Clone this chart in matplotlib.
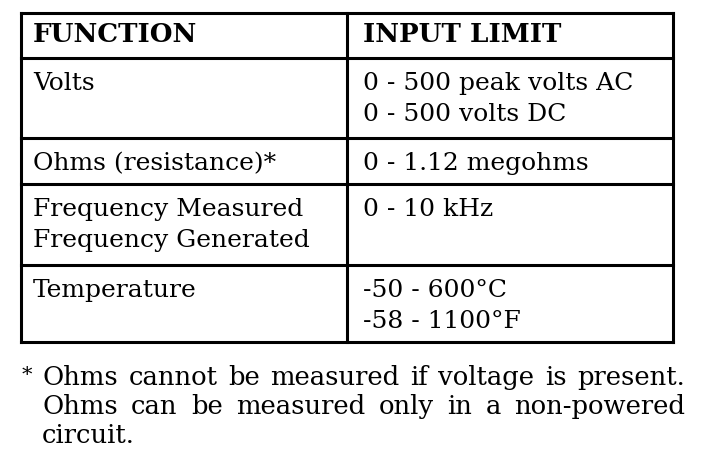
import matplotlib.pyplot as plt

# table content
header = ["FUNCTION", "INPUT LIMIT"]
functions = [
    ["Volts"],
    ["Ohms (resistance)*"],
    ["Frequency Measured", "Frequency Generated"],
    ["Temperature"],
]
limits = [
    ["0 - 500 peak volts AC", "0 - 500 volts DC"],
    ["0 - 1.12 megohms"],
    ["0 - 10 kHz"],
    ["-50 - 600°C", "-58 - 1100°F"],
]
footnote = [
    "Ohms cannot be measured if voltage is present.",
    "Ohms can be measured only in a non-powered",
    "circuit.",
]

# grid in pixels
x_left, x_mid, x_right = 21, 347, 673
row_lines = [14, 59, 139, 185, 266, 343]
line_gap = 31

fig = plt.figure(figsize=(7.04, 4.6), dpi=100)
ax = fig.add_axes([0, 0, 1, 1])
ax.set_xlim(0, 704)
ax.set_ylim(460, 0)
ax.axis("off")

lw = 2.2
for y in row_lines:
    ax.plot([x_left, x_right], [y, y], color="black", lw=lw, solid_capstyle="projecting")
for x in (x_left, x_mid, x_right):
    ax.plot([x, x], [row_lines[0], row_lines[-1]], color="black", lw=lw, solid_capstyle="projecting")

font = dict(family="DejaVu Serif", fontsize=18, color="black", va="baseline")

ax.text(33, 42, header[0], fontweight="bold", **{**font, "fontsize": 18.8})
ax.text(363, 42, header[1], fontweight="bold", **{**font, "fontsize": 18.8})

for i, (fn, lim) in enumerate(zip(functions, limits)):
    base = row_lines[i + 1] + 31
    for j, s in enumerate(fn):
        ax.text(33, base + j * line_gap, s, **font)
    for j, s in enumerate(lim):
        ax.text(363, base + j * line_gap, s, **font)

# footnote, first two lines justified to the right margin
foot_font = {**font, "fontsize": 18.6}
renderer = fig.canvas.get_renderer()
foot_left = 42
foot_right = 685
ax.text(22, 381, "*", **{**font, "fontsize": 15})
for j, s in enumerate(footnote):
    y = 385 + j * 29
    if j == len(footnote) - 1:
        ax.text(foot_left, y, s, **foot_font)
        continue
    words = s.split(" ")
    texts = [ax.text(0, y, w, **foot_font) for w in words]
    widths = [t.get_window_extent(renderer).width for t in texts]
    gap = (foot_right - foot_left - sum(widths)) / (len(words) - 1)
    x = foot_left
    for t, w in zip(texts, widths):
        t.set_x(x)
        x += w + gap

fig.savefig("out.png", dpi=100)
